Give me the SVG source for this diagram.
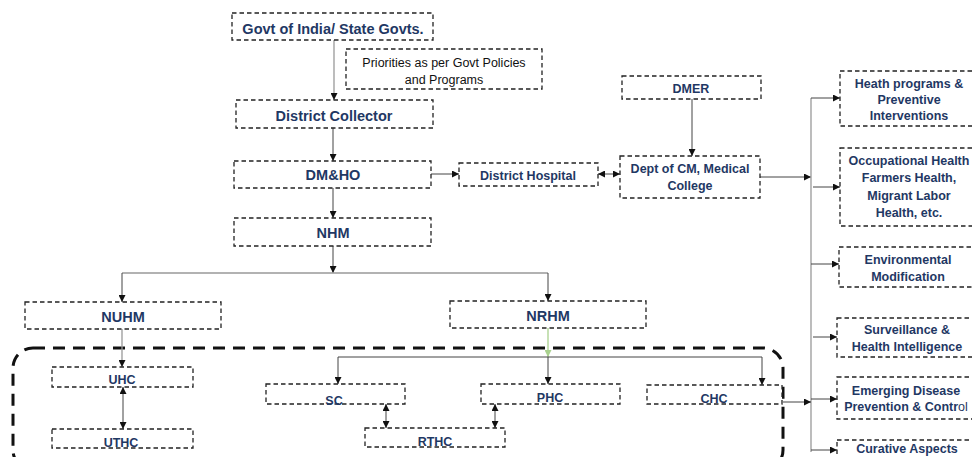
<svg xmlns="http://www.w3.org/2000/svg" width="972" height="457" viewBox="0 0 972 457">
<defs>
<marker id="ah" viewBox="0 0 10 10" refX="10" refY="5" markerWidth="7" markerHeight="7" markerUnits="userSpaceOnUse" orient="auto-start-reverse"><path d="M0,0 L10,5 L0,10 z" fill="#111"/></marker>
<marker id="ahg" viewBox="0 0 10 10" refX="10" refY="5" markerWidth="7" markerHeight="7" markerUnits="userSpaceOnUse" orient="auto"><path d="M0,0 L10,5 L0,10 z" fill="#a9d18e"/></marker>
<style>
.box{fill:#fff;stroke:#222;stroke-width:1.3;stroke-dasharray:4.5 3}
.t{font-family:"Liberation Sans",Arial,sans-serif;font-weight:bold;fill:#1f3864;text-anchor:middle}
.big{font-size:14.5px}
.mid{font-size:12.5px}
.reg{font-family:"Liberation Sans",Arial,sans-serif;font-size:12.5px;fill:#111;text-anchor:middle}
.ln{fill:none;stroke:#444;stroke-width:1}
.lg{fill:none;stroke:#999;stroke-width:1.3}
.a{marker-end:url(#ah)}
.aa{marker-start:url(#ah);marker-end:url(#ah)}
</style>
</defs>
<rect x="13" y="348" width="770" height="122" rx="20" fill="none" stroke="#111" stroke-width="3" stroke-dasharray="12 8"/>
<g id="connectors">
<path class="lg a" d="M334,40 V100"/>
<path class="ln a" d="M333,128 V161"/>
<path class="ln a" d="M333,188 V218"/>
<path class="ln a" d="M333,246 V273"/>
<path class="lg" d="M122,273 H548"/>
<path class="ln a" d="M122,273 V302"/>
<path class="ln a" d="M548,273 V301"/>
<path class="ln a" d="M431,174 H459"/>
<path class="ln aa" d="M598,174 H620"/>
<path class="ln a" d="M692,99 V156"/>
<path class="ln a" d="M760,177 H811"/>
<path class="lg" d="M811,98 V452"/>
<path class="ln a" d="M811,98 H840"/>
<path class="ln a" d="M813,187 H840"/>
<path class="ln a" d="M811,264 H839"/>
<path class="ln a" d="M813,337 H837"/>
<path class="ln a" d="M811,399 H837"/>
<path class="ln a" d="M811,450 H837"/>
<path class="ln a" d="M783,402 H811"/>
<path class="lg a" d="M122,329 V367"/>
<path class="ln aa" d="M123,387 V429"/>
<path fill="none" stroke="#a9d18e" stroke-width="1.3" marker-end="url(#ahg)" d="M548,328 V357"/>
<path class="ln" d="M338,357 H762"/>
<path class="ln a" d="M338,357 V384"/>
<path class="ln a" d="M548,357 V384"/>
<path class="ln a" d="M762,357 V385"/>
<path class="ln aa" d="M386,404 V428"/>
<path class="ln aa" d="M495,404 V428"/>
</g>
<g id="govt"><rect class="box" x="232" y="13" width="201" height="27"/><text class="t big" x="333" y="34">Govt of India/ State Govts.</text></g>
<g id="priorities"><rect class="box" x="346" y="49" width="196" height="40"/><text class="reg" x="444" y="67">Priorities as per Govt Policies</text><text class="reg" x="444" y="84">and Programs</text></g>
<g id="collector"><rect class="box" x="236" y="100" width="197" height="28"/><text class="t big" x="334" y="121">District Collector</text></g>
<g id="dmho"><rect class="box" x="234" y="161" width="197" height="27"/><text class="t big" x="333" y="180">DM&amp;HO</text></g>
<g id="nhm"><rect class="box" x="234" y="218" width="197" height="28"/><text class="t big" x="333" y="238">NHM</text></g>
<g id="nuhm"><rect class="box" x="25" y="302" width="196" height="27"/><text class="t big" x="123" y="322">NUHM</text></g>
<g id="nrhm"><rect class="box" x="450" y="301" width="196" height="27"/><text class="t big" x="548" y="321">NRHM</text></g>
<g id="hospital"><rect class="box" x="459" y="163" width="139" height="23"/><text class="t mid" x="528" y="180">District Hospital</text></g>
<g id="dmer"><rect class="box" x="622" y="76" width="139" height="23"/><text class="t mid" x="691" y="93">DMER</text></g>
<g id="deptcm"><rect class="box" x="620" y="156" width="140" height="42"/><text class="t mid" x="690" y="173">Dept of CM, Medical</text><text class="t mid" x="690" y="190">College</text></g>
<g id="heath"><rect class="box" x="840" y="71" width="140" height="55"/><text class="t mid" x="909" y="88">Heath programs &amp;</text><text class="t mid" x="909" y="104">Preventive</text><text class="t mid" x="909" y="120">Interventions</text></g>
<g id="occupational"><rect class="box" x="840" y="148" width="140" height="78"/><text class="t mid" x="909" y="165">Occupational Health</text><text class="t mid" x="909" y="182">Farmers Health,</text><text class="t mid" x="909" y="200">Migrant Labor</text><text class="t mid" x="909" y="217">Health, etc.</text></g>
<g id="environmental"><rect class="box" x="839" y="247" width="140" height="40"/><text class="t mid" x="908" y="264">Environmental</text><text class="t mid" x="908" y="281">Modification</text></g>
<g id="surveillance"><rect class="box" x="837" y="318" width="142" height="39"/><text class="t mid" x="907" y="334">Surveillance &amp;</text><text class="t mid" x="907" y="351">Health Intelligence</text></g>
<g id="emerging"><rect class="box" x="837" y="377" width="142" height="42"/><text class="t mid" x="906" y="395">Emerging Disease</text><text class="t mid" x="906" y="411">Prevention &amp; Contr<tspan font-weight="normal">ol</tspan></text></g>
<g id="curative"><rect class="box" x="837" y="440" width="142" height="30"/><text class="t mid" x="907" y="453">Curative Aspects</text></g>
<g id="uhc"><rect class="box" x="52" y="367" width="141" height="20"/><text class="t mid" x="122" y="384">UHC</text></g>
<g id="uthc"><rect class="box" x="52" y="429" width="141" height="19"/><text class="t mid" x="121" y="447">UTHC</text></g>
<g id="sc"><rect class="box" x="266" y="384" width="139" height="20"/><text class="t mid" x="334" y="405">SC</text></g>
<g id="phc"><rect class="box" x="481" y="384" width="139" height="20"/><text class="t mid" x="550" y="402">PHC</text></g>
<g id="chc"><rect class="box" x="647" y="385" width="135" height="19"/><text class="t mid" x="714" y="403">CHC</text></g>
<g id="rthc"><rect class="box" x="365" y="428" width="140" height="19"/><text class="t mid" x="435" y="446">RTHC</text></g>
</svg>
